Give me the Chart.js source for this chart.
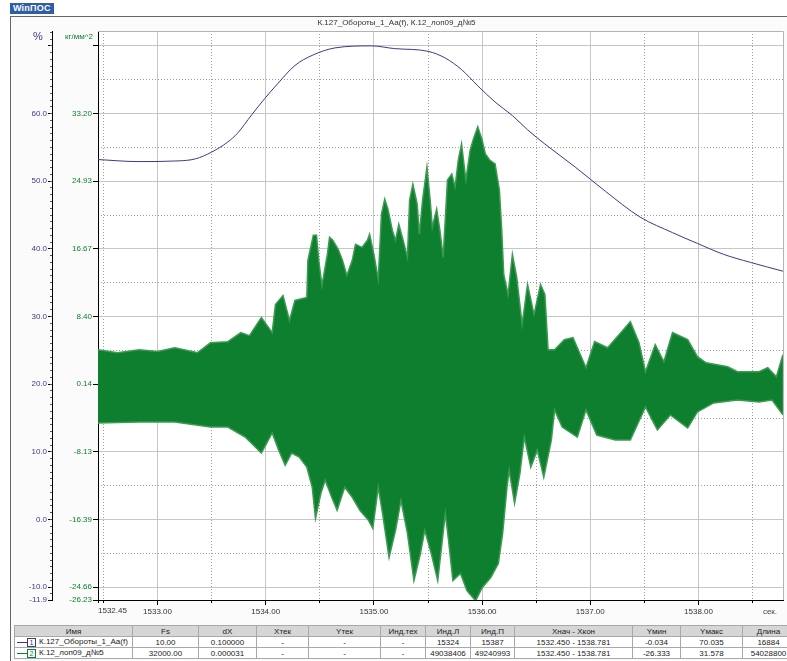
<!DOCTYPE html>
<html>
<head>
<meta charset="utf-8">
<script src="https://cdn.jsdelivr.net/npm/chart.js@4.4.1/dist/chart.umd.min.js"></script>
<style>
  body { margin: 0; width: 787px; height: 661px; overflow: hidden; position: relative; background: #fff; font-family: 'Liberation Sans', Arial, sans-serif; }
  #logo { position: absolute; left: 10px; top: 3px; height: 11px; padding: 0 3px; background: #2f5da6; color: #fff; font: bold 9px/11px 'Liberation Sans', Arial, sans-serif; letter-spacing: 0.2px; }
  #frame { position: absolute; left: 10px; top: 16px; width: 800px; height: 660px; border-left: 1px solid #666; border-top: 1px solid #666; background: #fbfbfb; }
  #wrap { position: absolute; left: 10px; top: 16px; width: 777px; height: 606px; }
  #info { position: absolute; left: 14px; top: 625px; width: 780px; border-collapse: collapse; table-layout: fixed; font-size: 8px; color: #222; }
  #info th, #info td { border: 1px solid #a8a8a8; height: 10px; padding: 0 2px; text-align: center; white-space: nowrap; overflow: hidden; font-weight: normal; }
  #info th { background: #d6d6d6; }
  #info td { background: #fff; }
  #info td.name { text-align: left; }
  .sw { display: inline-block; width: 10px; height: 1px; vertical-align: middle; }
  .num { display: inline-block; width: 7px; height: 7px; line-height: 7px; font-size: 7px; border: 1px solid; text-align: center; vertical-align: middle; margin-right: 3px; }
</style>
</head>
<body>
<div id="logo">WinПОС</div>
<div id="frame"></div>
<div id="wrap"><canvas id="chart" width="777" height="606"></canvas></div>
<table id="info"></table>
<script>
  const chartTitle = 'К.127_Обороты_1_Аа(f), К.12_лоп09_д№5';

  // blue series: rotation speed, %
  const blueTime = [1532.45, 1532.82, 1533.19, 1533.35, 1533.50, 1533.65, 1533.74, 1533.87, 1533.99, 1534.11,
    1534.27, 1534.43, 1534.64, 1534.98, 1535.19, 1535.50, 1535.66, 1535.81, 1535.96, 1536.12,
    1536.28, 1536.42, 1536.58, 1536.86, 1537.14, 1537.46, 1537.76, 1537.99, 1538.23, 1538.48, 1538.78];
  const bluePct = [53.2, 52.9, 53.0, 53.3, 54.3, 55.8, 57.1, 59.8, 62.2, 64.4,
    67.1, 68.6, 69.7, 70.0, 69.6, 69.2, 68.2, 66.5, 64.1, 61.7,
    59.7, 57.6, 55.5, 52.1, 48.5, 44.7, 42.4, 40.8, 39.2, 38.0, 36.7];

  // green series: stress signal envelope (upper / lower), kg/mm^2
  const greenUpTime = [1532.45, 1532.63, 1532.83, 1533.00, 1533.16, 1533.37, 1533.49, 1533.65, 1533.77, 1533.85,
    1533.96, 1534.06, 1534.09, 1534.16, 1534.22, 1534.27, 1534.38, 1534.39, 1534.44, 1534.47,
    1534.49, 1534.52, 1534.57, 1534.59, 1534.62, 1534.67, 1534.71, 1534.75, 1534.80, 1534.83,
    1534.89, 1534.94, 1534.96, 1535.00, 1535.04, 1535.07, 1535.10, 1535.13, 1535.17, 1535.20,
    1535.23, 1535.27, 1535.31, 1535.33, 1535.36, 1535.40, 1535.42, 1535.45, 1535.49, 1535.52,
    1535.54, 1535.58, 1535.61, 1535.64, 1535.68, 1535.72, 1535.75, 1535.78, 1535.81, 1535.85,
    1535.89, 1535.92, 1535.96, 1536.00, 1536.03, 1536.07, 1536.12, 1536.16, 1536.18, 1536.20,
    1536.24, 1536.28, 1536.32, 1536.37, 1536.42, 1536.48, 1536.54, 1536.58, 1536.61, 1536.67,
    1536.76, 1536.84, 1536.96, 1537.04, 1537.16, 1537.29, 1537.37, 1537.45, 1537.51, 1537.60,
    1537.68, 1537.76, 1537.90, 1537.99, 1538.07, 1538.27, 1538.36, 1538.56, 1538.64, 1538.72, 1538.78];
  const greenUpVal = [4.35, 3.98, 4.35, 4.14, 4.59, 3.98, 5.20, 5.33, 6.43, 6.06,
    8.27, 6.43, 9.86, 10.97, 7.90, 10.36, 10.72, 15.26, 18.33, 18.33,
    15.26, 12.19, 16.00, 18.08, 17.71, 16.61, 15.26, 13.42, 15.26, 17.22,
    16.85, 17.71, 18.45, 16.00, 12.93, 20.90, 22.74, 21.51, 18.94, 17.71,
    19.68, 17.71, 15.63, 22.62, 24.58, 22.13, 18.45, 22.62, 26.66, 22.62,
    19.31, 21.51, 18.94, 15.63, 25.07, 25.81, 24.21, 27.52, 29.49, 25.07,
    28.75, 30.10, 31.57, 29.98, 28.26, 27.52, 27.03, 23.84, 19.31, 13.54,
    11.09, 16.00, 13.18, 7.41, 12.32, 8.64, 12.32, 11.09, 4.35, 4.35,
    5.57, 5.82, 2.14, 5.33, 4.59, 6.55, 7.78, 5.20, 1.65, 4.96,
    2.87, 6.43, 5.57, 3.49, 2.75, 2.26, 1.65, 1.65, 2.14, 1.04, 3.73];
  const greenLoTime = [1532.45, 1532.83, 1533.16, 1533.49, 1533.65, 1533.81, 1533.96, 1534.06, 1534.12, 1534.18,
    1534.24, 1534.31, 1534.38, 1534.43, 1534.46, 1534.51, 1534.55, 1534.61, 1534.66, 1534.73,
    1534.80, 1534.87, 1534.95, 1534.99, 1535.04, 1535.08, 1535.14, 1535.20, 1535.25, 1535.31,
    1535.37, 1535.43, 1535.47, 1535.53, 1535.59, 1535.66, 1535.69, 1535.73, 1535.80, 1535.86,
    1535.94, 1536.00, 1536.08, 1536.15, 1536.19, 1536.23, 1536.25, 1536.30, 1536.35, 1536.39,
    1536.45, 1536.51, 1536.57, 1536.64, 1536.67, 1536.74, 1536.88, 1536.96, 1537.06, 1537.23,
    1537.37, 1537.51, 1537.62, 1537.74, 1537.90, 1537.99, 1538.14, 1538.36, 1538.56, 1538.68, 1538.78];
  const greenLoVal = [-4.61, -4.48, -4.48, -5.10, -5.10, -6.32, -8.28, -5.83, -7.92, -9.76,
    -8.28, -8.78, -10.00, -12.45, -16.26, -13.19, -11.60, -13.68, -15.27, -12.45,
    -13.68, -15.27, -16.50, -17.48, -12.45, -15.64, -21.04, -17.73, -14.05, -18.09,
    -23.86, -20.55, -17.73, -20.55, -23.86, -15.64, -18.95, -23.86, -23.00, -25.09,
    -26.33, -24.72, -23.49, -21.77, -18.09, -12.45, -10.37, -14.42, -10.74, -6.32,
    -10.00, -7.92, -11.23, -6.69, -3.01, -5.10, -6.32, -3.01, -6.08, -6.69,
    -6.69, -2.64, -5.46, -3.62, -5.22, -3.26, -2.15, -1.79, -2.03, -1.79, -3.62];

  // axes
  const xMajorTicks = [1533, 1534, 1535, 1536, 1537, 1538];
  const xMajorLabels = ['1533.00', '1534.00', '1535.00', '1536.00', '1537.00', '1538.00'];
  const xHalfTicks = [1532.45, 1532.5, 1533.5, 1534.5, 1535.5, 1536.5, 1537.5, 1538.5];
  const xHalfLabels = ['1532.45', '', '', '', '', '', '', ''];
  const pctTicks = [-11.9, -10, 0, 10, 20, 30, 40, 50, 60, 70];
  const pctLabels = ['-11.9', '-10.0', '0.0', '10.0', '20.0', '30.0', '40.0', '50.0', '60.0', ''];
  const pctDotTicks = [-5, 5, 15, 25, 35, 45, 55, 65];
  const gTicks = [-26.23, -24.66, -16.39, -8.13, 0.14, 8.40, 16.67, 24.93, 33.20, 41.47];
  const gLabels = ['-26.23', '-24.66', '-16.39', '-8.13', '0.14', '8.40', '16.67', '24.93', '33.20', ''];

  const X_MIN = 1532.45, X_MAX = 1538.781;
  const PCT_MIN = -11.9, PCT_MAX = 72.2;
  const G_MIN = -26.23, G_MAX = 43.28;

  const tableHead = ['Имя', 'Fs', 'dX', 'Xтек', 'Yтек', 'Инд.тех', 'Инд.Л', 'Инд.П', 'Xнач - Xкон', 'Yмин', 'Yмакс', 'Длина'];
  const tableRows = [
    ['К.127_Обороты_1_Аа(f)', '10.00', '0.100000', '-', '-', '-', '15324', '15387', '1532.450 - 1538.781', '-0.034', '70.035', '16884'],
    ['К.12_лоп09_д№5', '32000.00', '0.000031', '-', '-', '-', '49038406', '49240993', '1532.450 - 1538.781', '-26.333', '31.578', '54028800']
  ];
  const colWidths = [118, 66, 58, 52, 72, 45, 45, 44, 118, 48, 62, 52];

  const BLUE = '#3a3a8a';
  const GREEN = '#0e7f2e';
  const GREEN_EDGE = '#3c9a52';
  const GRIDC = '#c6c6c6';
  const DOTC = '#a0a0a0';
  const FONT = "'Liberation Sans', Arial, sans-serif";

  // ---- table ----
  const tbl = document.getElementById('info');
  let html = '<colgroup>' + colWidths.map(function (w) { return '<col style="width:' + w + 'px">'; }).join('') + '</colgroup>';
  html += '<tr>' + tableHead.map(function (h) { return '<th>' + h + '</th>'; }).join('') + '</tr>';
  const rowColors = [BLUE, GREEN];
  tableRows.forEach(function (r, i) {
    html += '<tr>' + r.map(function (c, j) {
      if (j === 0) {
        return '<td class="name"><span class="sw" style="background:' + rowColors[i] + '"></span>' +
          '<span class="num" style="border-color:' + rowColors[i] + ';color:' + rowColors[i] + '">' + (i + 1) + '</span>' + c + '</td>';
      }
      return '<td>' + c + '</td>';
    }).join('') + '</tr>';
  });
  tbl.innerHTML = html;

  // ---- chart ----
  function pts(xs, ys) { return xs.map(function (x, i) { return { x: x, y: ys[i] }; }); }
  function setTicks(list) { return function (s) { s.ticks = list.map(function (v) { return { value: v }; }); }; }

  const plotFrame = {
    id: 'plotFrame',
    beforeDraw: function (chart) {
      const a = chart.chartArea, c = chart.ctx;
      c.save();
      c.fillStyle = '#ffffff';
      c.fillRect(a.left, a.top, a.right - a.left, a.bottom - a.top);
      c.restore();
    },
    afterDraw: function (chart) {
      const a = chart.chartArea, c = chart.ctx;
      c.save();
      c.strokeStyle = '#b4b4b4';
      c.lineWidth = 1;
      c.beginPath();
      c.moveTo(a.left, a.top + 0.5); c.lineTo(a.right + 0.5, a.top + 0.5); c.lineTo(a.right + 0.5, a.bottom);
      c.stroke();
      // unit labels
      const sp = chart.scales.yPct, sg = chart.scales.yG, sx = chart.scales.x;
      c.textAlign = 'center';
      c.textBaseline = 'middle';
      c.fillStyle = BLUE;
      c.font = '11px ' + FONT;
      c.fillText('%', sp.right - 14, a.top + 6);
      c.fillStyle = GREEN;
      c.font = '8px ' + FONT;
      c.fillText('кг/мм^2', sg.right - 19, a.top + 6);
      c.fillStyle = '#444';
      c.fillText('сек.', sx.right - 13, a.bottom + 12);
      c.restore();
    }
  };

  new Chart(document.getElementById('chart').getContext('2d'), {
    type: 'line',
    data: {
      datasets: [
        { data: pts(greenLoTime, greenLoVal), xAxisID: 'x', yAxisID: 'yG', borderColor: GREEN_EDGE, borderWidth: 1.5, pointRadius: 0, fill: false, tension: 0 },
        { data: pts(greenUpTime, greenUpVal), xAxisID: 'x', yAxisID: 'yG', borderColor: GREEN_EDGE, backgroundColor: GREEN, borderWidth: 1.5, pointRadius: 0, fill: '-1', tension: 0 },
        { data: pts(blueTime, bluePct), xAxisID: 'x', yAxisID: 'yPct', borderColor: BLUE, borderWidth: 1, pointRadius: 0, fill: false, cubicInterpolationMode: 'monotone' }
      ]
    },
    options: {
      responsive: false,
      animation: false,
      events: [],
      layout: { padding: { left: 0, right: 4, top: 0, bottom: 0 } },
      plugins: {
        legend: { display: false },
        tooltip: { enabled: false },
        title: { display: true, text: chartTitle, color: '#333', font: { family: FONT, size: 8, weight: 'normal', lineHeight: 1 }, padding: { top: 3, bottom: 4 } }
      },
      scales: {
        x: {
          type: 'linear', position: 'bottom', weight: 1, min: X_MIN, max: X_MAX,
          afterFit: function (s) { s.height = 22; },
          afterBuildTicks: setTicks(xMajorTicks),
          ticks: { autoSkip: false, maxRotation: 0, padding: 2, color: '#333', font: { family: FONT, size: 8 },
            callback: function (v, i) { return xMajorLabels[i]; } },
          grid: { color: GRIDC, tickColor: '#000', tickLength: 5 },
          border: { display: true, color: '#000' }
        },
        xHalf: {
          // zero-height axis: dotted half-second grid, plus the start label
          type: 'linear', position: 'bottom', weight: 0, min: X_MIN, max: X_MAX,
          afterFit: function (s) { s.height = 0; },
          afterBuildTicks: setTicks(xHalfTicks),
          ticks: { autoSkip: false, maxRotation: 0, mirror: true, padding: -15.8, align: 'start', color: '#333', font: { family: FONT, size: 8 },
            callback: function (v, i) { return xHalfLabels[i]; } },
          grid: { color: function (ctx) { return ctx.index === 0 ? 'rgba(0,0,0,0)' : DOTC; }, tickColor: '#000', tickLength: 3 },
          border: { display: false, dash: [1, 2] }
        },
        yPct: {
          type: 'linear', position: 'left', weight: 3, min: PCT_MIN, max: PCT_MAX,
          afterFit: function (s) { s.width = 42; },
          afterBuildTicks: setTicks(pctTicks),
          ticks: { autoSkip: false, padding: 1, color: BLUE, font: { family: FONT, size: 8 },
            callback: function (v, i) { return pctLabels[i]; } },
          grid: { drawOnChartArea: false, tickColor: '#000', tickLength: 4 },
          border: { display: true, color: '#000' }
        },
        yPctMinor: {
          type: 'linear', position: 'left', weight: 2, min: PCT_MIN, max: PCT_MAX,
          afterFit: function (s) { s.width = 0; },
          afterBuildTicks: function (s) {
            const t = [];
            for (let v = -11; v <= 72; v++) t.push({ value: v });
            s.ticks = t;
          },
          ticks: { display: false },
          grid: { drawOnChartArea: false, tickColor: '#555', tickLength: 2 },
          border: { display: false }
        },
        yG: {
          type: 'linear', position: 'left', weight: 1, min: G_MIN, max: G_MAX,
          afterFit: function (s) { s.width = 46; },
          afterBuildTicks: setTicks(gTicks),
          ticks: { autoSkip: false, padding: 1, color: GREEN, font: { family: FONT, size: 8 },
            callback: function (v, i) { return gLabels[i]; } },
          grid: { color: function (ctx) { return ctx.index === 0 ? 'rgba(0,0,0,0)' : GRIDC; }, tickColor: '#000', tickLength: 5 },
          border: { display: true, color: '#000' }
        },
        yDot: {
          type: 'linear', position: 'left', weight: 0, min: PCT_MIN, max: PCT_MAX,
          afterFit: function (s) { s.width = 0; },
          afterBuildTicks: setTicks(pctDotTicks),
          ticks: { display: false },
          grid: { color: DOTC, drawTicks: false },
          border: { display: false, dash: [1, 2] }
        }
      }
    },
    plugins: [plotFrame]
  });
</script>
</body>
</html>
